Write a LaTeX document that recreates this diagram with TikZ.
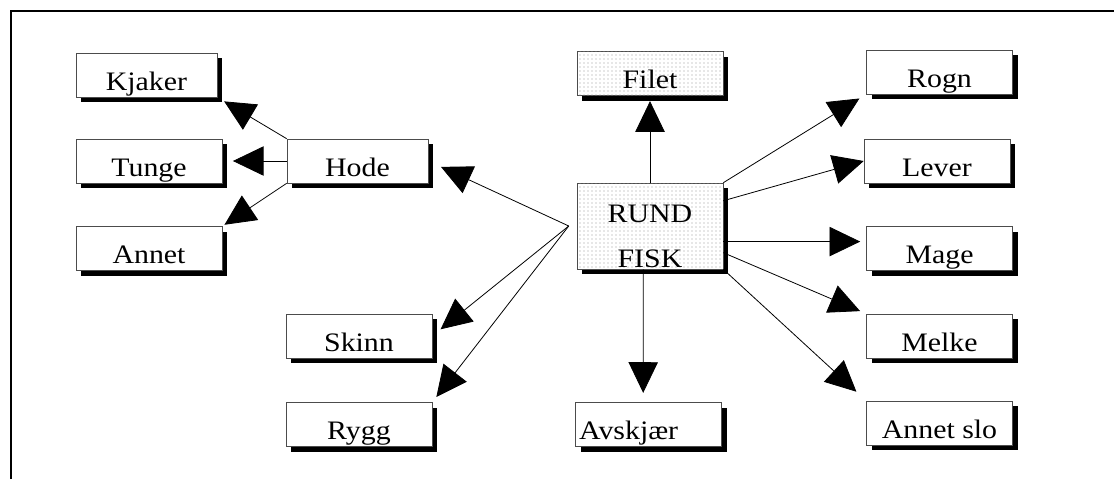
\documentclass[tikz,border=0pt]{standalone}
\usepackage{fontspec}
\setmainfont{Liberation Serif}[FakeStretch=1.12]
\usetikzlibrary{arrows.meta,shadows,patterns}
\tikzset{
  stipple/.style={postaction={pattern=dots,pattern color=black!40}},
}
\begin{document}
\begin{tikzpicture}[x=0.75pt,y=-0.75pt]
      \useasboundingbox (0,0) rectangle (1114,479);
      \draw[line width=1.5pt] (11,479) -- (11,11) -- (1114,11);
      \begin{scope}[every node/.style={draw=gray!60!black,fill=white,
          minimum width=109.5pt,minimum height=33pt,inner sep=0pt,
          text height=22.5pt,text depth=0pt,
          font=\fontsize{20}{33.75}\selectfont,
          drop shadow={shadow xshift=4pt,shadow yshift=-4pt,fill=black,draw=none,opacity=1}}]
        \node[minimum width=105.75pt] (kjaker) at (146.5,75) {Kjaker};
        \node (tunge) at (149,161) {Tunge};
        \node (annet) at (149,248.5) {Annet};
        \node[minimum width=105.75pt] (hode) at (357.5,161) {Hode};
        \node (skinn) at (359,336) {Skinn};
        \node (rygg) at (359,424.5) {Rygg};
        \node[stipple] (filet) at (650,73.5) {Filet};
        \node[stipple,minimum height=64.5pt,align=center,
          text height=61.5pt,text depth=0pt] (rund) at (650,226) {RUND\\FISK};
        \node[text width=104pt,align=left] (avskjaer) at (648.5,424.5) {Avskjær};
        \node (rogn) at (939.5,72) {Rogn};
        \node (lever) at (937,161) {Lever};
        \node (mage) at (939.5,248.5) {Mage};
        \node (melke) at (939.5,336) {Melke};
        \node (annetslo) at (939.5,423) {Annet slo};
      \end{scope}
      \coordinate (rl) at ([xshift=-6pt]rund.west);
      \begin{scope}[every edge/.style={draw=black,line width=0.6pt,
          -{Triangle[length=23pt,width=22pt]}}]
        \path (hode.north west) edge[shorten >=6pt] (kjaker.south east);
        \path (hode.west) edge[shorten >=8pt] (tunge.east);
        \path (hode.south west) edge[shorten >=2pt] (annet.north east);
        \path (rl) edge[shorten >=10.5pt] (hode.east);
        \path (rl) edge[shorten >=8pt] (skinn.east);
        \path (rl) edge[shorten >=5pt] (rygg.north east);
        \path (rund.north) edge[shorten >=4pt] (filet.south);
        \path ([xshift=-5pt]rund.south) edge[shorten >=7pt] ([xshift=-4pt]avskjaer.north);
        \path (rund.north east) edge[shorten >=6pt] (rogn.south west);
        \path (rund.19) edge (lever.west);
        \path (rund.-12) edge[shorten >=4.5pt] (rund.-12 -| mage.west);
        \path (rund.-20) edge[shorten >=5pt] (melke.north west);
        \path (rund.south east) edge[shorten >=10pt] (annetslo.north west);
      \end{scope}
    \end{tikzpicture}
\end{document}
